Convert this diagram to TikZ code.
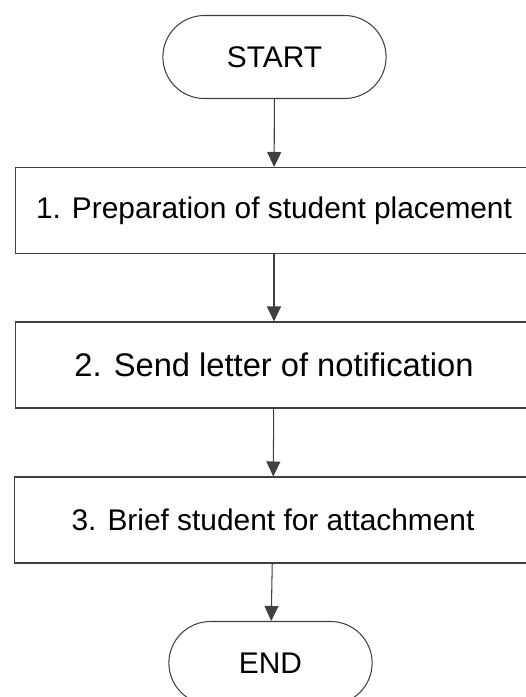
\documentclass[tikz,border=0pt]{standalone}
\usepackage{fontspec}
\setmainfont{Liberation Sans}
\usetikzlibrary{shapes.misc,arrows.meta}

\begin{document}
\begin{tikzpicture}[x=0.02cm, y=-0.02cm, every node/.style={font=\fontsize{17}{20}\selectfont, draw=black!75, line width=0.6pt}, term/.style={rounded rectangle, minimum height=1.66cm}, stepbox/.style={rectangle, minimum width=10.36cm, minimum height=1.72cm}, every edge/.style={draw=black!75, line width=0.6pt, -{Triangle[width=0.28cm,length=0.3cm]}}]
				\useasboundingbox (0,0) rectangle (525,697);
				
				\node[term, minimum width=4.7cm] (start) at (274.5,57){START};
				\node[stepbox] (prep) at (274,210.5){1. Preparation of student placement};
				\node[stepbox, font=\fontsize{18.6}{22}\selectfont] (letter) at (274,365){2. Send letter of notification};
				\node[stepbox] (brief) at (273,520){3. Brief student for attachment};
				\node[term, minimum width=4.3cm] (end) at (270.5,663){END};
				
				\path (start) edge (prep);
				\path (prep) edge (letter);
				\path (letter) edge (brief);
				\path (brief) edge (end);
				\end{tikzpicture}
\end{document}
